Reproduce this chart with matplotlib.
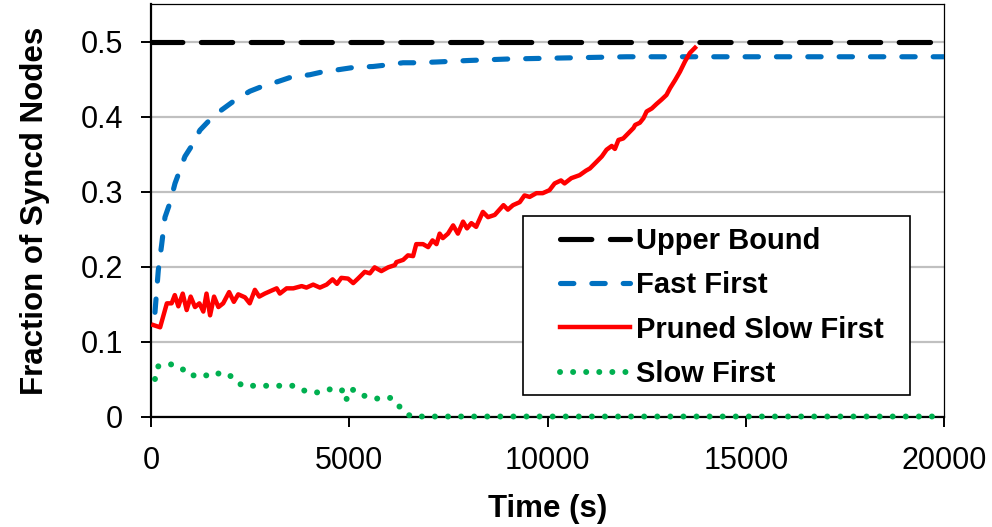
import matplotlib
matplotlib.use("Agg")
import matplotlib.pyplot as plt
from matplotlib.patches import Rectangle

plt.rcParams["font.family"] = ["Liberation Sans", "DejaVu Sans"]

# time axis (s) and fraction of synced nodes for each strategy
bound_t = [0, 20000]
bound_v = [0.5, 0.5]

fast_t = [100, 184, 268, 353, 478, 605, 856, 1025, 1234, 1486, 1780, 2116,
          2494, 2830, 3207, 3544, 4005, 4340, 4760, 5138, 5600, 5935, 6356,
          6692, 7196, 8000, 9000, 10000, 11000, 12000, 14000, 20000]
fast_v = [0.139, 0.195, 0.229, 0.266, 0.285, 0.311, 0.347, 0.361, 0.382,
          0.396, 0.409, 0.422, 0.434, 0.441, 0.447, 0.453, 0.456, 0.460,
          0.463, 0.466, 0.467, 0.469, 0.472, 0.472, 0.473, 0.475, 0.477,
          0.478, 0.479, 0.480, 0.480, 0.480]

pruned_t = [60, 230, 400, 520, 600, 690, 800, 900, 1000, 1110, 1220, 1320,
            1400, 1490, 1590, 1700, 1820, 1970, 2090, 2200, 2370, 2490, 2620,
            2730, 2870, 3040, 3170, 3250, 3420, 3590, 3800, 3920, 4090, 4260,
            4430, 4580, 4690, 4800, 4970, 5100, 5220, 5390, 5520, 5640, 5810,
            5980, 6150, 6190, 6360, 6480, 6610, 6690, 6860, 6990, 7100, 7200,
            7280, 7360, 7490, 7620, 7740, 7870, 7970, 8080, 8200, 8370, 8500,
            8670, 8890, 9000, 9130, 9300, 9420, 9550, 9720, 9880, 10050,
            10180, 10340, 10430, 10600, 10810, 10970, 11070, 11240, 11370,
            11490, 11620, 11700, 11790, 11910, 12040, 12170, 12210, 12330,
            12420, 12500, 12630, 12750, 12880, 13000, 13090, 13220, 13340,
            13470, 13590, 13720]
pruned_v = [0.122, 0.119, 0.151, 0.151, 0.162, 0.147, 0.164, 0.142, 0.160,
            0.146, 0.151, 0.140, 0.164, 0.135, 0.160, 0.146, 0.151, 0.166,
            0.153, 0.163, 0.159, 0.151, 0.169, 0.160, 0.164, 0.168, 0.171,
            0.164, 0.171, 0.171, 0.174, 0.172, 0.176, 0.172, 0.176, 0.183,
            0.177, 0.185, 0.184, 0.178, 0.184, 0.193, 0.191, 0.199, 0.194,
            0.199, 0.202, 0.206, 0.209, 0.215, 0.214, 0.230, 0.230, 0.226,
            0.235, 0.230, 0.244, 0.238, 0.244, 0.255, 0.244, 0.260, 0.251,
            0.258, 0.253, 0.273, 0.266, 0.269, 0.282, 0.276, 0.282, 0.286,
            0.295, 0.293, 0.298, 0.298, 0.302, 0.311, 0.315, 0.311, 0.318,
            0.322, 0.328, 0.331, 0.340, 0.347, 0.356, 0.361, 0.357, 0.369,
            0.371, 0.378, 0.385, 0.389, 0.392, 0.398, 0.407, 0.411, 0.417,
            0.423, 0.429, 0.438, 0.449, 0.460, 0.474, 0.485, 0.492]

slow_t = [100, 185, 480, 755, 1000, 1250, 1520, 1770, 2050, 2300, 2630, 2960,
          3280, 3610, 3930, 4240, 4560, 4810, 4910, 5060, 5230, 5550, 5850,
          6050, 6290, 6550, 20000]
slow_v = [0.050, 0.067, 0.070, 0.065, 0.054, 0.057, 0.053, 0.059, 0.053,
          0.041, 0.041, 0.041, 0.041, 0.041, 0.033, 0.032, 0.037, 0.036,
          0.021, 0.037, 0.030, 0.025, 0.023, 0.025, 0.012, 0.0, 0.0]

labels = ["Upper Bound", "Fast First", "Pruned Slow First", "Slow First"]
y_ticks = [0, 0.1, 0.2, 0.3, 0.4, 0.5]
x_ticks = [0, 5000, 10000, 15000, 20000]

fig = plt.figure(figsize=(9.92, 5.27), dpi=100)
ax = fig.add_axes([151 / 992, 1 - 416.5 / 527, 793 / 992, 412.2 / 527])

ax.plot(bound_t, bound_v, color="black", lw=3.7, linestyle=(0, (6.1, 3.6)),
        dash_capstyle="round", label=labels[0], zorder=3)
ax.plot(fast_t, fast_v, color="#0070C0", lw=3.7, linestyle=(0, (2.6, 3.5)),
        dash_capstyle="round", label=labels[1], zorder=3)
ax.plot(pruned_t, pruned_v, color="#FF0000", lw=3.2, solid_joinstyle="round",
        label=labels[2], zorder=3)
ax.plot(slow_t, slow_v, color="#00B050", lw=4.3, linestyle=(0, (0.01, 2.18)),
        dash_capstyle="round", label=labels[3], zorder=4, clip_on=False)

ax.set_xlim(0, 20000)
ax.set_ylim(0, 0.55)
ax.set_xticks(x_ticks)
ax.set_xticklabels([str(t) for t in x_ticks])
ax.set_yticks(y_ticks)
ax.set_yticklabels(["0" if v == 0 else f"{v:.1f}" for v in y_ticks])
ax.yaxis.grid(True, color="#C0C0C0", lw=1.6)
ax.set_axisbelow(True)

for side in ("left", "bottom"):
    ax.spines[side].set_linewidth(1.6)
for side in ("top", "right"):
    ax.spines[side].set_linewidth(0.9)
ax.tick_params(axis="both", which="both", direction="out", length=7, width=1.4,
               labelsize=22, top=False, right=False)
ax.tick_params(axis="y", pad=13)
ax.tick_params(axis="x", pad=14)

ax.set_xlabel("Time (s)", fontsize=22.5, fontweight="bold", labelpad=13)
ax.set_ylabel("Fraction of Syncd Nodes", fontsize=22.5, fontweight="bold",
              labelpad=22)

# legend box drawn separately so the padding can be uneven
ax.add_patch(Rectangle((0.469, 0.052), 0.488, 0.4345, transform=ax.transAxes,
                       facecolor="white", edgecolor="black", lw=1.2,
                       zorder=5))
leg = ax.legend(loc="upper left", bbox_to_anchor=(0.516, 0.460),
                borderaxespad=0, borderpad=0, frameon=False,
                handlelength=2.4, handletextpad=0.2, labelspacing=0.56,
                prop={"size": 21, "weight": "bold"})
leg.set_zorder(6)

fig.savefig("out.png", dpi=100)
